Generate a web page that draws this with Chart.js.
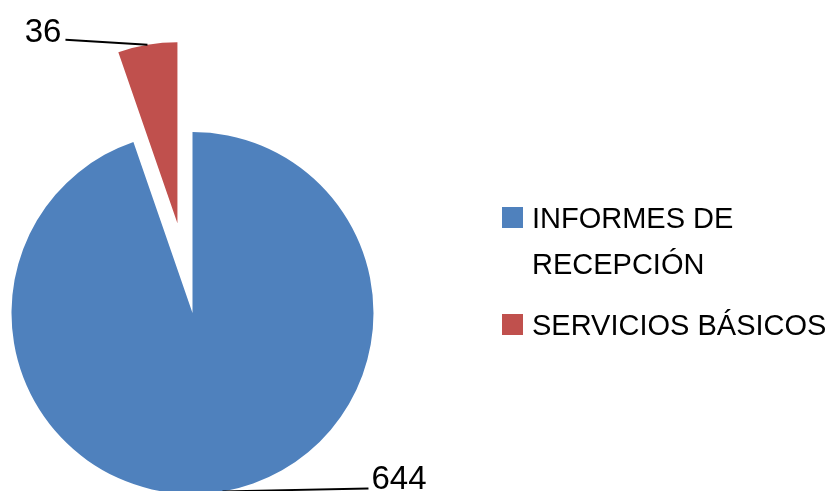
<!DOCTYPE html>
<html>
<head>
<meta charset="utf-8">
<script src="https://cdn.jsdelivr.net/npm/chart.js@4.4.0/dist/chart.umd.min.js"></script>
<style>
  html, body { margin: 0; padding: 0; background: #fff; }
  #wrap { width: 830px; height: 491px; }
</style>
</head>
<body>
<div id="wrap"><canvas id="pie"></canvas></div>
<script>
const categorias = ['INFORMES DE RECEPCIÓN', 'SERVICIOS BÁSICOS'];
const cantidades = [644, 36];
const colores = ['#4F81BD', '#C0504D'];

const FUENTE = '"Liberation Sans", Arial, sans-serif';

// draws each slice moved out along its bisector
const separacion = {
  id: 'separacion',
  beforeDatasetDraw(chart, args, opts) {
    const ctx = chart.ctx;
    args.meta.data.forEach((arc, i) => {
      const d = opts.distancia[i] || 0;
      const mid = (arc.startAngle + arc.endAngle) / 2;
      ctx.save();
      ctx.translate(Math.cos(mid) * d, Math.sin(mid) * d);
      arc.draw(ctx);
      ctx.restore();
    });
    return false;
  }
};

// value labels with leader lines from the outer edge of each slice
const etiquetas = {
  id: 'etiquetas',
  afterDraw(chart, args, opts) {
    const ctx = chart.ctx;
    const sep = chart.options.plugins.separacion.distancia;
    const meta = chart.getDatasetMeta(0);
    const valores = chart.data.datasets[0].data;
    ctx.save();
    ctx.font = opts.font;
    ctx.fillStyle = '#000';
    ctx.strokeStyle = '#000';
    ctx.lineWidth = 1.8;
    meta.data.forEach((arc, i) => {
      const mid = (arc.startAngle + arc.endAngle) / 2;
      const r = arc.outerRadius + (sep[i] || 0);
      const x0 = arc.x + Math.cos(mid) * r;
      const y0 = arc.y + Math.sin(mid) * r;
      const [dx, dy] = opts.desplazamiento[i];
      const x1 = x0 + dx, y1 = y0 + dy;
      ctx.beginPath();
      ctx.moveTo(x0, y0);
      ctx.lineTo(x1, y1);
      ctx.stroke();
      ctx.textBaseline = 'alphabetic';
      if (dx < 0) {
        ctx.textAlign = 'right';
        ctx.fillText(String(valores[i]), x1 - 4, y1 + 2);
      } else {
        ctx.textAlign = 'left';
        ctx.fillText(String(valores[i]), x1 + 3, y1);
      }
    });
    ctx.restore();
  }
};

// legend at the right, wrapping long names
const leyenda = {
  id: 'leyenda',
  afterDraw(chart, args, opts) {
    const ctx = chart.ctx;
    const ds = chart.data.datasets[0];
    ctx.save();
    ctx.font = opts.font;
    ctx.textAlign = 'left';
    ctx.textBaseline = 'alphabetic';
    let base = opts.top;
    chart.data.labels.forEach((label, i) => {
      const lineas = [];
      let actual = '';
      label.split(' ').forEach(p => {
        const prueba = actual ? actual + ' ' + p : p;
        if (actual && ctx.measureText(prueba).width > opts.anchoMax) {
          lineas.push(actual);
          actual = p;
        } else {
          actual = prueba;
        }
      });
      lineas.push(actual);
      ctx.fillStyle = ds.backgroundColor[i];
      ctx.fillRect(opts.x, base - opts.caja, opts.caja, opts.caja);
      ctx.fillStyle = '#000';
      lineas.forEach((l, j) => {
        ctx.fillText(l, opts.x + opts.caja + 9, base + j * opts.interlineado);
      });
      base += (lineas.length - 1) * opts.interlineado + opts.separacionItems;
    });
    ctx.restore();
  }
};

new Chart(document.getElementById('pie'), {
  type: 'pie',
  data: {
    labels: categorias,
    datasets: [{
      data: cantidades,
      backgroundColor: colores,
      borderWidth: 0,
      radius: 181
    }]
  },
  options: {
    responsive: true,
    maintainAspectRatio: false,
    animation: false,
    layout: { padding: { left: 0, right: 445, top: 135, bottom: 0 } },
    plugins: {
      legend: { display: false },
      tooltip: { enabled: false },
      separacion: { distancia: [0, 91] },
      etiquetas: { font: '33px ' + FUENTE, desplazamiento: [[146, -3], [-82, -5]] },
      leyenda: {
        font: '29px ' + FUENTE,
        x: 502, top: 228, caja: 21,
        interlineado: 46, separacionItems: 61, anchoMax: 310
      }
    }
  },
  plugins: [separacion, etiquetas, leyenda]
});
</script>
</body>
</html>
